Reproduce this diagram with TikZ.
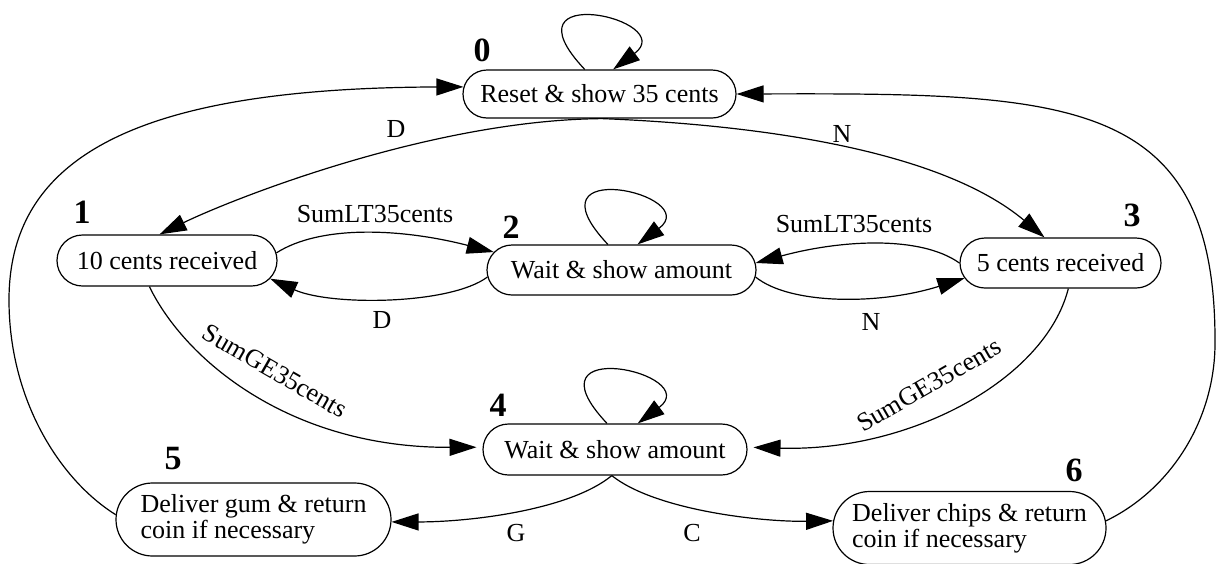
\documentclass[tikz,border=0pt]{standalone}
\usepackage{fontspec}
\setmainfont{Liberation Serif}
\usetikzlibrary{arrows.meta,shapes.misc}

\begin{document}
\begin{tikzpicture}[x=1pt,y=-1pt,
  state/.style={draw, line width=1.2pt, rounded rectangle, inner sep=0pt,
                font=\fontsize{26}{26}\selectfont},
  num/.style={font=\fontsize{34}{34}\selectfont\bfseries, inner sep=0pt},
  lbl/.style={font=\fontsize{26}{26}\selectfont, inner sep=0pt},
  tr/.style={line width=1.2pt, -{Triangle[length=27pt,width=17pt]}},
]
\fill[white] (0,0) rectangle (1217,563);
\useasboundingbox (0,0) rectangle (1217,563);

% states
\node[state, minimum width=273pt, minimum height=48pt] (s0) at (599.5,94) {Reset \& show 35 cents};
\node[state, minimum width=220pt, minimum height=51pt] (s1) at (167,260.5) {10 cents received};
\node[state, minimum width=269pt, minimum height=50pt] (s2) at (621.5,270) {Wait \& show amount};
\node[state, minimum width=201pt, minimum height=50pt] (s3) at (1060.5,263) {5 cents received};
\node[state, minimum width=264pt, minimum height=51pt] (s4) at (615,449.5) {Wait \& show amount};
\node[state, minimum width=275pt, minimum height=73pt, align=left] (s5) at (253.5,519.5) {Deliver gum \& return\\coin if necessary};
\node[state, minimum width=273pt, minimum height=73pt, align=left] (s6) at (969.5,528) {Deliver chips \& return\\coin if necessary};

% state numbers
\node[num] (n0) at (482,50) {0};
\node[num] (n1) at (82,212) {1};
\node[num] (n2) at (511,227) {2};
\node[num] (n3) at (1132,215) {3};
\node[num] (n4) at (498,405) {4};
\node[num] (n5) at (173,459) {5};
\node[num] (n6) at (1074,470) {6};

% self loops
\draw[tr] (s0.121) .. controls +(-85,-90) and +(67,-50) .. (s0.61);
\draw[tr] (s2.118) .. controls +(-85,-90) and +(67,-50) .. (s2.58);
\draw[tr] (s4.107) .. controls +(-85,-90) and +(67,-50) .. (s4.49);

% transitions out of the reset state
\draw[tr] (s0.276) .. controls (430,120) and (230,200) .. (s1.106);
\node[lbl] (lD0) at (396,129) {D};
\draw[tr] (s0.276) .. controls (760,125) and (940,150) .. (s3.122);
\node[lbl] (lN0) at (842,134) {N};

% between the coin states and the waiting state
\draw[tr] (s1.4) .. controls (320,225) and (400,228) .. (s2.172);
\node[lbl] (lLT1) at (375,214) {SumLT35cents};
\draw[tr] (s2.183) .. controls (450,305) and (330,306) .. (s1.350);
\node[lbl] (lD2) at (382,320) {D};
\draw[tr] (s3.west) .. controls (920,235) and (840,240) .. (s2.3);
\node[lbl] (lLT3) at (854,224) {SumLT35cents};
\draw[tr] (s2.357) .. controls (790,305) and (880,305) .. (s3.189);
\node[lbl] (lN2) at (871,322) {N};

% to the final waiting state
\draw[tr, shorten >=6pt] (s1.236) .. controls (185,360) and (290,448) .. (s4.179);
\node[lbl, rotate=-30] (lGE1) at (275,371) {SumGE35cents};
\draw[tr, shorten >=6pt] (s3.287) .. controls (1045,380) and (910,452) .. (s4.1);
\node[lbl, rotate=30] (lGE3) at (929,385) {SumGE35cents};

% deliveries
\draw[tr] (s4.263) .. controls (570,510) and (470,522) .. (s5.359);
\node[lbl] (lG) at (516,533) {G};
\draw[tr] (s4.263) .. controls (655,510) and (760,522) .. (s6.177);
\node[lbl] (lC) at (692,533) {C};

% back to reset
\coordinate (wL) at (9,300);
\coordinate (eR) at (1215,340);
\draw[tr] (s5.178) .. controls (60,480) and (9,400) .. (wL) .. controls (9,150) and (150,88) .. (s0.177);
\draw[tr] (s6.3) .. controls (1170,490) and (1216,420) .. (eR) .. controls (1215,96) and (1068,93) .. (s0.0);
\end{tikzpicture}
\end{document}
